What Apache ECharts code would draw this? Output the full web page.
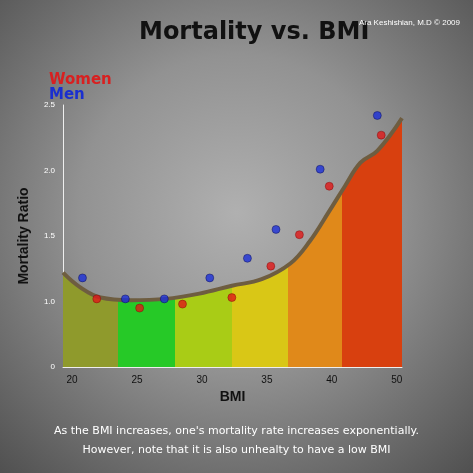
<!DOCTYPE html>
<html>
<head>
<meta charset="utf-8">
<script src="https://cdn.jsdelivr.net/npm/echarts@6/dist/echarts.min.js"></script>
<style>
html,body{margin:0;padding:0;}
#c{width:473px;height:473px;background:radial-gradient(circle at 50% 45%,#b0b0b0 0%,#929292 45%,#505050 100%);}
</style>
</head>
<body>
<div id="c"></div>
<script>
// x values are axis positions: 20..40 is BMI, 45 stands for BMI 50 (axis is compressed there)
const xTicks=[20,25,30,35,40,45]
const xTickLabels=['20','25','30','35','40','50']
const curve=[[19.3,1.22],[20.6,1.11],[22.2,1.03],[24.5,1.01],[27.2,1.02],[29.8,1.06],[32.3,1.12],[34.6,1.17],[36.8,1.29],[38.3,1.46],[39.8,1.69],[41.0,1.88],[42.2,2.06],[43.5,2.15],[45.4,2.40]]
const women=[[21.9,1.02],[25.2,0.95],[28.5,0.98],[32.3,1.03],[35.3,1.27],[37.5,1.51],[39.8,1.88],[43.8,2.27]]
const men=[[20.8,1.18],[24.1,1.02],[27.1,1.02],[30.6,1.18],[33.5,1.33],[35.7,1.55],[39.1,2.01],[43.5,2.42]]
const bandEdges=[19.3,23.5,27.9,32.3,36.6,40.8,45.4]
const bandColors=['#8f9a2c','#26c927','#a9cc16','#d9c716','#e0891a','#d8400f']

const chart=echarts.init(document.getElementById('c'))
const pieces=bandColors.map((c,i)=>({gte:bandEdges[i],lt:bandEdges[i+1],color:c}))
chart.setOption({
  title:[
    {text:'Mortality vs. BMI',left:134,top:16,textStyle:{fontFamily:'DejaVu Sans',fontSize:24,fontWeight:'bold',color:'#111'}},
    {text:'Ara Keshishian, M.D © 2009',right:8,top:14,textStyle:{fontSize:8,color:'#fff',fontWeight:'normal'}}
  ],
  legend:{orient:'vertical',left:38,top:68,itemWidth:0,itemHeight:0,itemGap:0,
    data:[{name:'Women',textStyle:{color:'#d82020'}},{name:'Men',textStyle:{color:'#1a2fd0'}}],
    textStyle:{fontSize:15,fontWeight:'bold',fontFamily:'Verdana, DejaVu Sans',lineHeight:14}},
  grid:{left:63,right:71,top:105,bottom:106},
  xAxis:{type:'value',min:19.3,max:45.4,name:'BMI',nameLocation:'middle',nameGap:20,
    nameTextStyle:{color:'#111',fontWeight:'bold',fontSize:14},
    axisLine:{show:true,lineStyle:{color:'#eee'}},axisTick:{show:false},splitLine:{show:false},
    axisLabel:{customValues:xTicks,color:'#111',fontSize:10,formatter:v=>xTickLabels[xTicks.indexOf(v)]}},
  yAxis:{type:'value',min:0.5,max:2.5,interval:0.5,name:'Mortality Ratio',nameLocation:'middle',nameGap:32,
    nameTextStyle:{color:'#111',fontWeight:'bold',fontSize:14},
    axisLine:{show:true,lineStyle:{color:'#eee'}},axisTick:{show:false},splitLine:{show:false},
    axisLabel:{color:'#fff',fontSize:8,formatter:v=>v===0.5?'0':v.toFixed(1)}},
  visualMap:{show:false,type:'piecewise',dimension:0,seriesIndex:0,pieces:pieces},
  series:[
    {type:'line',data:curve,smooth:0.4,symbol:'none',lineStyle:{width:0},areaStyle:{opacity:1},z:1},
    {type:'line',data:curve,smooth:0.4,symbol:'none',lineStyle:{width:4,color:'#6e5d40'},z:2},
    {name:'Women',type:'scatter',data:women,symbolSize:8,itemStyle:{color:'#e01818',borderColor:'#700',borderWidth:0.5},z:3},
    {name:'Men',type:'scatter',data:men,symbolSize:8,itemStyle:{color:'#1c2fd8',borderColor:'#004',borderWidth:0.5},z:3}
  ],
  graphic:[{type:'text',left:'center',top:422,style:{text:"As the BMI increases, one's mortality rate increases exponentially.\nHowever, note that it is also unhealty to have a low BMI",
    fill:'#fff',font:'11px DejaVu Sans',textAlign:'center',lineHeight:19}}]
})
</script>
</body>
</html>
